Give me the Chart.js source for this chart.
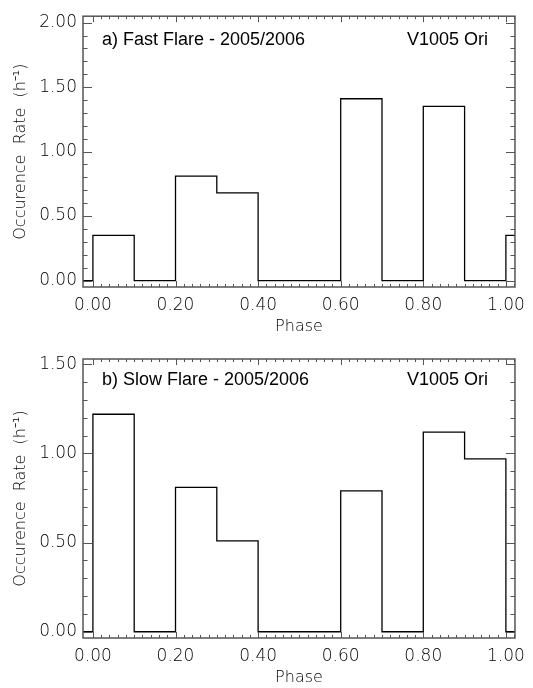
<!DOCTYPE html>
<html>
<head>
<meta charset="utf-8">
<title>V1005 Ori flare occurrence rate</title>
<script src="https://cdn.jsdelivr.net/npm/chart.js@4.4.1/dist/chart.umd.min.js"></script>
<style>
    html, body { margin: 0; padding: 0; background: #fff; }
    .panel { position: relative; width: 533px; }
</style>
</head>
<body>
<div class="panel" style="height: 340px;"><canvas id="fastChart"></canvas></div>
<div class="panel" style="height: 348px;"><canvas id="slowChart"></canvas></div>
<script>
// left edge of each phase bin (histogram drawn as a step line)
const binEdges = [-0.1, 0.0, 0.1, 0.2, 0.3, 0.4, 0.5, 0.6, 0.7, 0.8, 0.9, 1.0, 1.1];
const fastRate = [0, 0.35, 0, 0.81, 0.68, 0, 0, 1.41, 0, 1.35, 0, 0.35, 0.35];
const slowRate = [0, 1.22, 0, 0.81, 0.51, 0, 0, 0.79, 0, 1.12, 0.97, 0, 0];

const phaseTicks = [0.0, 0.2, 0.4, 0.6, 0.8, 1.0];
const fastRateTicks = [0.0, 0.5, 1.0, 1.5, 2.0];
const slowRateTicks = [0.0, 0.5, 1.0, 1.5];
const phaseMinorStep = 0.02;
const rateMinorStep = 0.1;

const AXIS_COLOR = '#555';
const TEXT_COLOR = '#000';
const LABEL_FONT = { family: 'DejaVu Sans', size: 17, weight: 300 };
const TITLE_FONT = { family: 'DejaVu Sans', size: 16, weight: 300 };

// IDL style frame with inward major/minor ticks on all four sides
const frameTicks = {
    id: 'frameTicks',
    afterDraw(chart) {
        const { ctx, chartArea: a, scales: { x, y } } = chart;
        ctx.save();
        ctx.strokeStyle = AXIS_COLOR;
        ctx.lineWidth = 1;
        ctx.beginPath();
        const xMajor = phaseTicks[1] - phaseTicks[0];
        for (let v = 0; v <= x.max + 1e-9; v += phaseMinorStep) {
            const px = Math.round(x.getPixelForValue(v)) + 0.5;
            const major = Math.abs(v / xMajor - Math.round(v / xMajor)) < 1e-6;
            const len = major ? 6 : 3;
            ctx.moveTo(px, a.bottom); ctx.lineTo(px, a.bottom - len);
            ctx.moveTo(px, a.top); ctx.lineTo(px, a.top + len);
        }
        const yTicks = chart.options.scales.y.majorTicks;
        const yMajor = yTicks[1] - yTicks[0];
        for (let v = 0; v <= y.max + 1e-9; v += rateMinorStep) {
            const py = Math.round(y.getPixelForValue(v)) + 0.5;
            const major = Math.abs(v / yMajor - Math.round(v / yMajor)) < 1e-6;
            const len = major ? 9 : 4.5;
            ctx.moveTo(a.left, py); ctx.lineTo(a.left + len, py);
            ctx.moveTo(a.right, py); ctx.lineTo(a.right - len, py);
        }
        ctx.stroke();
        ctx.lineWidth = 1.5;
        ctx.strokeRect(a.left, a.top, a.right - a.left, a.bottom - a.top);

        // panel labels
        const lbl = chart.options.plugins.panelLabel;
        ctx.fillStyle = '#000';
        ctx.font = '18px "Liberation Sans", Arial, sans-serif';
        ctx.textBaseline = 'middle';
        ctx.textAlign = 'left';
        ctx.fillText(lbl.left, a.left + 19, a.top + lbl.dy);
        ctx.textAlign = 'right';
        ctx.fillText(lbl.right, a.right - 27, a.top + lbl.dy);
        ctx.restore();
    }
};

function makeChart(id, rates, yMin, yMax, yTicks, padTop, xHeight, titleBottom, label) {
    const ctx = document.getElementById(id).getContext('2d');
    return new Chart(ctx, {
        type: 'line',
        data: {
            datasets: [{
                data: binEdges.map((e, i) => ({ x: e, y: rates[i] })),
                stepped: 'before',
                borderColor: '#000',
                borderWidth: 1.3,
                pointRadius: 0,
                fill: false
            }]
        },
        options: {
            responsive: true,
            maintainAspectRatio: false,
            animation: false,
            layout: { padding: { top: padTop, right: 9, left: 0, bottom: 0 } },
            plugins: {
                legend: { display: false },
                tooltip: { enabled: false },
                panelLabel: label
            },
            scales: {
                x: {
                    type: 'linear',
                    min: -0.024,
                    max: 1.022,
                    grid: { display: false, drawTicks: false },
                    border: { display: false },
                    afterBuildTicks: s => { s.ticks = phaseTicks.map(v => ({ value: v })); },
                    afterFit: s => { s.height = xHeight; },
                    ticks: {
                        autoSkip: false,
                        maxRotation: 0,
                        padding: 8,
                        color: TEXT_COLOR,
                        font: LABEL_FONT,
                        callback: v => v.toFixed(2)
                    },
                    title: {
                        display: true,
                        text: 'Phase',
                        color: TEXT_COLOR,
                        font: TITLE_FONT,
                        padding: { top: 0, bottom: titleBottom }
                    }
                },
                y: {
                    min: yMin,
                    max: yMax,
                    majorTicks: yTicks,
                    grid: { display: false, drawTicks: false },
                    border: { display: false },
                    afterBuildTicks: s => { s.ticks = yTicks.map(v => ({ value: v })); },
                    afterFit: s => { s.width = 83; },
                    ticks: {
                        autoSkip: false,
                        padding: 6,
                        color: TEXT_COLOR,
                        font: LABEL_FONT,
                        callback: v => v.toFixed(2)
                    },
                    title: {
                        display: true,
                        text: 'Occurence  Rate  (h\u207B\u00B9)',
                        color: TEXT_COLOR,
                        font: TITLE_FONT,
                        padding: { top: 11, bottom: 0 }
                    }
                }
            }
        },
        plugins: [frameTicks]
    });
}

makeChart('fastChart', fastRate, -0.05, 2.05, fastRateTicks, 7, 53, 4,
    { left: 'a) Fast Flare - 2005/2006', right: 'V1005 Ori', dy: 24 });
makeChart('slowChart', slowRate, -0.035, 1.53, slowRateTicks, 19, 50, 1,
    { left: 'b) Slow Flare - 2005/2006', right: 'V1005 Ori', dy: 21 });
</script>
</body>
</html>
